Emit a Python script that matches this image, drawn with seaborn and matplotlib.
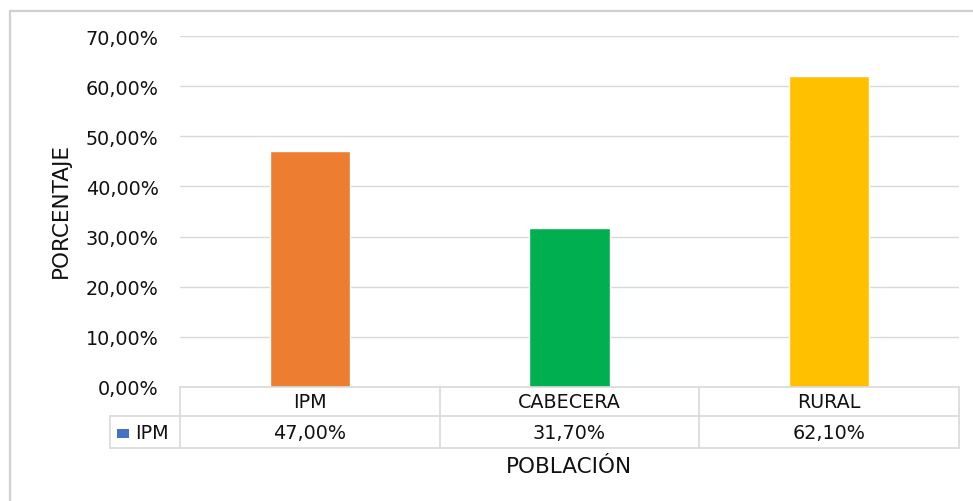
import matplotlib
matplotlib.use("Agg")
import matplotlib.pyplot as plt
import seaborn as sns
import pandas as pd
from matplotlib.patches import Rectangle
from matplotlib.lines import Line2D

categories = ["IPM", "CABECERA", "RURAL"]
values = [0.47, 0.317, 0.621]
value_labels = ["47,00%", "31,70%", "62,10%"]
series_name = "IPM"
y_ticks = [0.0, 0.1, 0.2, 0.3, 0.4, 0.5, 0.6, 0.7]
y_tick_labels = ["0,00%", "10,00%", "20,00%", "30,00%", "40,00%", "50,00%", "60,00%", "70,00%"]
bar_colors = ["#ED7D31", "#00B050", "#FFC000"]
legend_color = "#4472C4"

sns.set_style("white")
plt.rcParams["font.family"] = ["DejaVu Sans"]

W, H = 973, 502
fig = plt.figure(figsize=(W / 100, H / 100), dpi=100)

def fx(px):
    return px / W

def fy(py):
    return 1 - py / H

txt = "#111111"
fs = 13.8

ax = fig.add_axes([fx(180), fy(388), fx(959) - fx(180), fy(37) - fy(388)])
df = pd.DataFrame({"cat": categories, "val": values})
sns.barplot(data=df, x="cat", y="val", hue="cat", palette=bar_colors,
            width=0.31, legend=False, ax=ax, saturation=1)
ax.set_ylim(0, 0.70)
ax.set_xlim(-0.5, 2.5)
ax.set_yticks(y_ticks)
ax.set_yticklabels(y_tick_labels, fontsize=fs, color=txt)
ax.tick_params(axis="y", length=0, pad=15.5)
ax.set_xticks([])
ax.set_xlabel("")
ax.set_ylabel("")
ax.yaxis.grid(True, color="#d9d9d9", linewidth=1)
ax.set_axisbelow(True)
for s in ax.spines.values():
    s.set_visible(False)

gray = "#d9d9d9"
lw = 1.2

def hline(x0, x1, y):
    fig.add_artist(Line2D([fx(x0), fx(x1)], [fy(y), fy(y)], color=gray, lw=lw))

def vline(x, y0, y1):
    fig.add_artist(Line2D([fx(x), fx(x)], [fy(y0), fy(y1)], color=gray, lw=lw))

# outer chart border
fig.add_artist(Line2D([fx(10), fx(10)], [fy(12), fy(H + 5)], color="#d0d0d0", lw=1.6))
fig.add_artist(Line2D([fx(10), fx(W + 5)], [fy(12), fy(12)], color="#d0d0d0", lw=1.6))

# data table
col_edges = [180, 440, 699, 959]
hline(180, 959, 388)
hline(110, 959, 417)
hline(110, 959, 449)
for x in col_edges:
    vline(x, 388, 449)
vline(110, 417, 449)

for i, cat in enumerate(categories):
    cx = (col_edges[i] + col_edges[i + 1]) / 2
    fig.text(fx(cx), fy(403), cat, ha="center", va="center", fontsize=fs, color=txt)
    fig.text(fx(cx), fy(434), value_labels[i], ha="center", va="center", fontsize=fs, color=txt)

fig.add_artist(Rectangle((fx(117), fy(439)), fx(12), fy(430) - fy(439),
                         facecolor=legend_color, edgecolor="none"))
fig.text(fx(135), fy(434), series_name, ha="left", va="center", fontsize=fs, color=txt)

fig.text(fx(61), fy(211), "PORCENTAJE", rotation=90, ha="center", va="center",
         fontsize=15.5, color=txt)
fig.text(fx(569), fy(467), "POBLACIÓN", ha="center", va="center",
         fontsize=15.5, color=txt)

fig.savefig("out.png", dpi=100, facecolor="white")
